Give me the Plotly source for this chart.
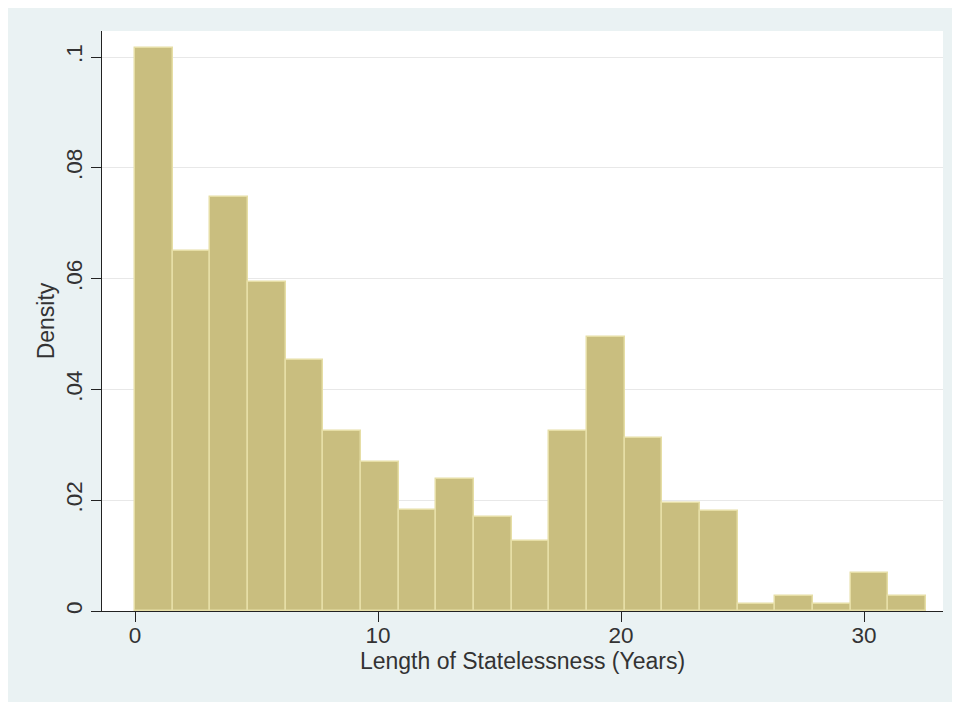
import plotly.graph_objects as go

# ---- data ----
bin_start = 0.0
bin_width = 1.55
density = [0.1017, 0.0650, 0.0748, 0.0594, 0.0453, 0.0325, 0.0269, 0.0182,
           0.0238, 0.0170, 0.0126, 0.0325, 0.0495, 0.0312, 0.0195, 0.0181,
           0.00126, 0.0027, 0.00126, 0.0069, 0.0027]
x_ticks = [0, 10, 20, 30]
x_tick_labels = ["0", "10", "20", "30"]
y_ticks = [0, 0.02, 0.04, 0.06, 0.08, 0.1]
y_tick_labels = ["0", ".02", ".04", ".06", ".08", ".1"]

centers = [bin_start + bin_width * (i + 0.5) for i in range(len(density))]

FONT = "Liberation Sans, Arial, sans-serif"
TXT = "#333333"

fig = go.Figure()
fig.add_trace(go.Bar(
    x=centers, y=density, width=[bin_width] * len(density),
    marker=dict(color="#C9BE7F", line=dict(color="#E6DEA6", width=1.5)),
    hoverinfo="skip",
))

fig.update_layout(
    width=968, height=710,
    margin=dict(l=94, r=33, t=23, b=107),
    paper_bgcolor="#EAF2F3",
    plot_bgcolor="#FFFFFF",
    showlegend=False,
    bargap=0,
    font=dict(family=FONT, color=TXT, size=22),
)

fig.update_xaxes(
    range=[-1.36, 33.25],
    tickmode="array", tickvals=x_ticks, ticktext=x_tick_labels,
    ticks="outside", ticklen=10, tickwidth=1, tickcolor="#222222",
    showline=True, linecolor="#222222", linewidth=1.2,
    showgrid=False, zeroline=False,
    tickfont=dict(size=22.5, color=TXT),
    ticklabelstandoff=-6,
    title=dict(text="Length of Statelessness (Years)", font=dict(size=23, color=TXT), standoff=0),
)
fig.update_yaxes(
    range=[0, 0.1047],
    tickmode="array", tickvals=y_ticks, ticktext=y_tick_labels,
    ticks="outside", ticklen=10, tickwidth=1, tickcolor="#222222",
    showline=True, linecolor="#222222", linewidth=1.2,
    showgrid=True, gridcolor="#E8E8E8", gridwidth=1,
    zeroline=False, tickangle=-90,
    tickfont=dict(size=22.5, color=TXT),
    title=dict(text="Density", font=dict(size=23, color=TXT), standoff=0),
)

fig.write_html("out.html")
